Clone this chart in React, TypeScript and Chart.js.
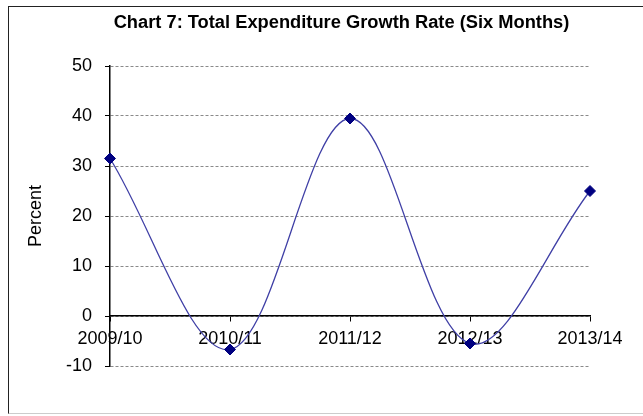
import React, { useEffect, useRef } from "react";
import { Chart, registerables } from "chart.js";

Chart.register(...registerables);

const categories = ["2009/10", "2010/11", "2011/12", "2012/13", "2013/14"];
const growthRate = [31.5, -6.7, 39.5, -5.5, 25.0];
const chartTitle = "Chart 7: Total Expenditure Growth Rate (Six Months)";
const yAxisTitle = "Percent";
const yMin = -10;
const yMax = 50;
const yStep = 10;

const FONT = '"Liberation Sans", Arial, sans-serif';

const titlePlugin = {
  id: "customTitle",
  afterDraw(chart: any) {
    const { ctx, chartArea } = chart;
    ctx.save();
    ctx.font = `bold 18.3px ${FONT}`;
    ctx.fillStyle = "#000";
    ctx.textAlign = "center";
    ctx.textBaseline = "middle";
    const cx = (chartArea.left + chartArea.right) / 2 - 8.5;
    ctx.fillText(chartTitle, cx, chartArea.top - 43);
    ctx.restore();
  },
};

export default function App() {
  const ref = useRef<HTMLCanvasElement | null>(null);

  useEffect(() => {
    if (!ref.current) return;
    const chart = new Chart(ref.current, {
      type: "line",
      data: {
        labels: categories,
        datasets: [
          {
            data: growthRate,
            borderColor: "#4040a6",
            borderWidth: 1.3,
            tension: 0.35,
            fill: false,
            pointStyle: "rectRot",
            pointRadius: 5.5,
            pointBackgroundColor: "#000080",
            pointBorderColor: "#000080",
            pointBorderWidth: 1,
          },
        ],
      },
      options: {
        responsive: false,
        animation: false,
        layout: { padding: { top: 59, bottom: 46, left: 0, right: 51 } },
        plugins: {
          legend: { display: false },
          title: { display: false },
          tooltip: { enabled: false },
        },
        scales: {
          x: {
            type: "category",
            position: { y: 0 } as any,
            offset: false,
            grid: {
              drawOnChartArea: false,
              drawTicks: true,
              tickLength: 5,
              tickColor: "#000",
              color: "#000",
            },
            border: { display: true, color: "#000", width: 1.5 },
            ticks: {
              autoSkip: false,
              maxRotation: 0,
              minRotation: 0,
              color: "#000",
              padding: 7,
              font: { family: FONT, size: 18 },
            },
          },
          y: {
            min: yMin,
            max: yMax,
            afterFit(scale: any) {
              scale.width = 101;
            },
            grid: {
              color: "#8a8a8a",
              lineWidth: 1,
              drawTicks: true,
              tickLength: 5,
              tickColor: "#000",
            },
            border: { display: true, color: "#000", width: 1.5, dash: [3, 2] },
            ticks: {
              stepSize: yStep,
              color: "#000",
              padding: 13,
              font: { family: FONT, size: 18 },
            },
            title: {
              display: true,
              text: yAxisTitle,
              color: "#000",
              padding: { top: 16, bottom: 0 },
              font: { family: FONT, size: 18 },
            },
          },
        },
      },
      plugins: [titlePlugin],
    });
    return () => chart.destroy();
  }, []);

  return (
    <div
      style={{
        position: "absolute",
        left: 8,
        top: 6,
        width: 635,
        height: 408,
        boxSizing: "border-box",
        borderLeft: "1px solid #222",
        borderTop: "1px solid #222",
        borderBottom: "1px solid #ccc",
        background: "#fff",
      }}
    >
      <canvas ref={ref} width={632} height={405} style={{ display: "block" }} />
    </div>
  );
}
